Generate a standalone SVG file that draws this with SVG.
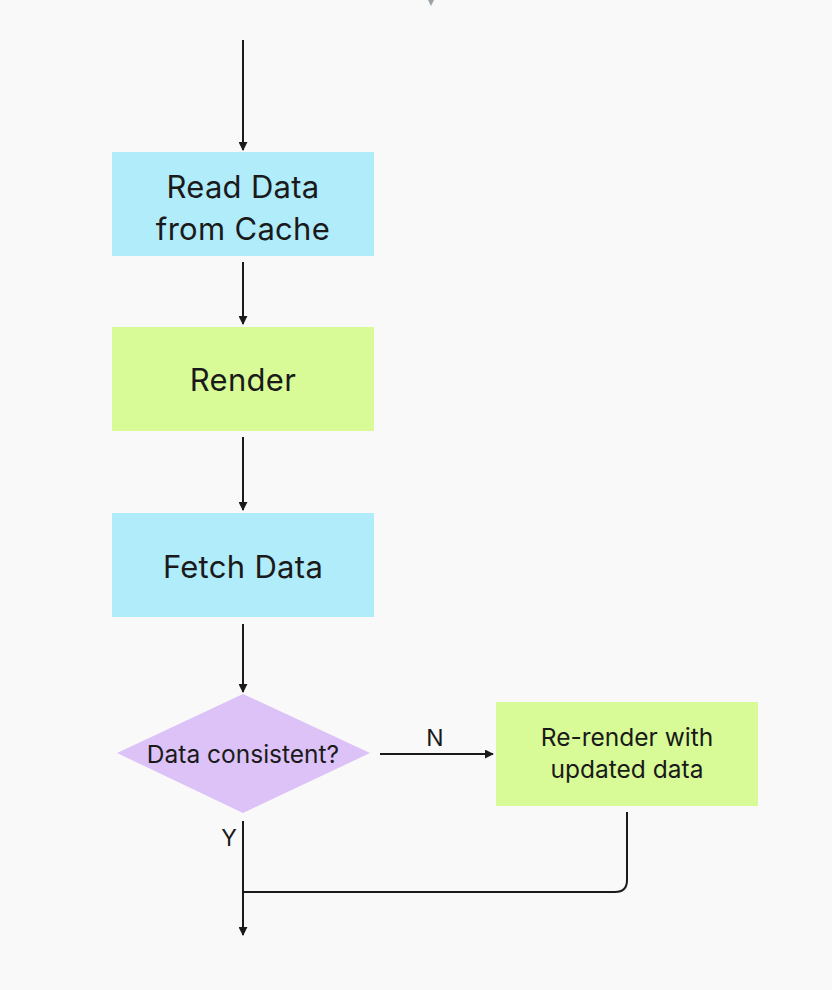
<svg xmlns="http://www.w3.org/2000/svg" width="832" height="990" viewBox="0 0 832 990">
<style>
.lbl{font-family:Inter,"Open Sans","Liberation Sans",sans-serif;fill:#1a1a1a;text-anchor:middle}
.big{font-size:31px;letter-spacing:0.3px}
.sm{font-size:24.5px}
.yn{font-size:23px}
.cn{fill:none;stroke:#1a1a1a;stroke-width:2}
</style>
<defs>
<marker id="ah" viewBox="0 0 10 10" refX="9" refY="5" markerWidth="9" markerHeight="9" markerUnits="userSpaceOnUse" orient="auto">
<path d="M0,0 L10,5 L0,10 z" fill="#1a1a1a"/>
</marker>
</defs>
<rect width="832" height="990" fill="#f9f9f9"/>
<polygon points="428,0 434,0 431,6" fill="#9aa3a8"/>
<g id="connectors">
<path class="cn" d="M243,40 V150" marker-end="url(#ah)"/>
<path class="cn" d="M243,262 V324" marker-end="url(#ah)"/>
<path class="cn" d="M243,437 V510" marker-end="url(#ah)"/>
<path class="cn" d="M243,624 V692" marker-end="url(#ah)"/>
<path class="cn" d="M380,754 H493" marker-end="url(#ah)"/>
<path class="cn" d="M243,821 V935" marker-end="url(#ah)"/>
<path class="cn" d="M627,812 V880 Q627,892 615,892 H243"/>
<text class="lbl yn" x="435" y="746">N</text>
<text class="lbl yn" x="229" y="846">Y</text>
</g>
<g id="read-cache">
<rect x="112" y="152" width="262" height="104" fill="#b0ecfa"/>
<text class="lbl big" x="243" y="198">Read Data</text>
<text class="lbl big" x="243" y="240">from Cache</text>
</g>
<g id="render">
<rect x="112" y="327" width="262" height="104" fill="#d8fb98"/>
<text class="lbl big" x="243" y="391">Render</text>
</g>
<g id="fetch">
<rect x="112" y="513" width="262" height="104" fill="#b0ecfa"/>
<text class="lbl big" x="243" y="578">Fetch Data</text>
</g>
<g id="decision">
<polygon points="243,694 370,753 243,813 117,753" fill="#dcc2f6"/>
<text class="lbl sm" x="243" y="763">Data consistent?</text>
</g>
<g id="rerender">
<rect x="496" y="702" width="262" height="104" fill="#d8fb98"/>
<text class="lbl sm" x="627" y="746">Re-render with</text>
<text class="lbl sm" x="627" y="778">updated data</text>
</g>
</svg>
